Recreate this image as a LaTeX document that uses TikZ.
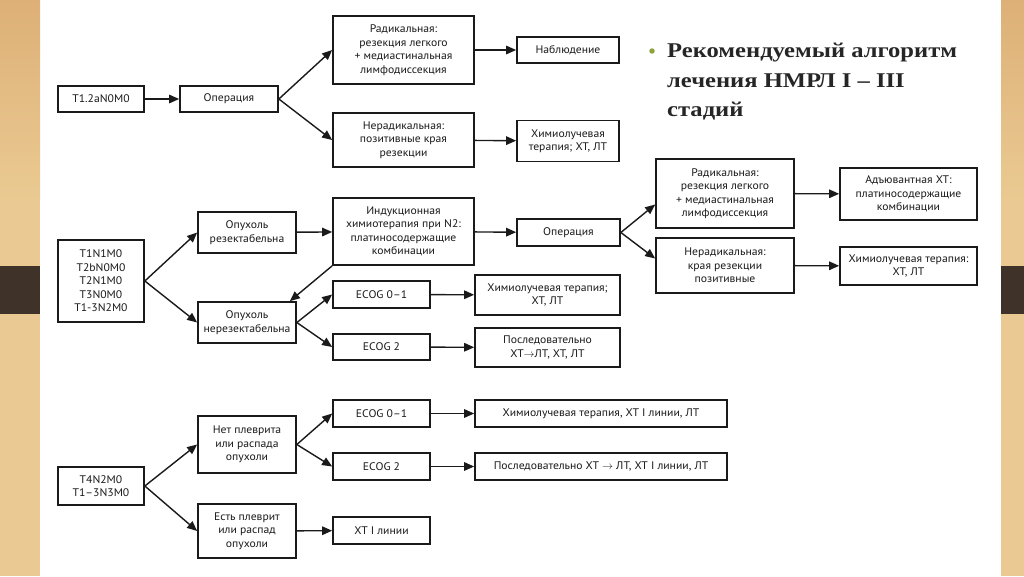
\documentclass[tikz,border=0pt]{standalone}
\usepackage{fontspec}
\setmainfont{PT Sans}[FakeStretch=1.06]
\newfontfamily\headfont{Liberation Serif}[FakeStretch=1.17]
\usetikzlibrary{arrows.meta}
\definecolor{ink}{HTML}{1A1A1A}
\definecolor{wood}{HTML}{EACA92}
\definecolor{woodtop}{HTML}{DDB077}
\definecolor{woodband}{HTML}{3E3229}
\definecolor{olive}{HTML}{8FA33C}
\definecolor{headtext}{HTML}{262626}
\tikzset{
  box/.style 2 args={draw=ink, line width=1.7pt, inner sep=0pt, align=center, text=ink,
    minimum width=#1, minimum height=#2, font=\fontsize{11}{13.5}\selectfont},
  arr/.style={draw=ink, line width=1.4pt, -{Triangle[length=10pt,width=8.5pt]}},
  head/.style={anchor=base west, inner sep=0pt, text=headtext, font=\headfont\bfseries\fontsize{21}{29}\selectfont},
}
\begin{document}
\begin{tikzpicture}[x=1pt, y=-1pt]
  % slide and wooden frame
  \fill[white] (0,0) rectangle (1024,576);
  \fill[wood] (0,0) rectangle (40,576);
  \shade[top color=woodtop, bottom color=wood] (0,0) rectangle (40,200);
  \fill[woodband] (0,266) rectangle (40,314);
  \fill[wood] (1001,0) rectangle (1024,576);
  \shade[top color=woodtop, bottom color=wood] (1001,0) rectangle (1024,200);
  \fill[woodband] (1001,266) rectangle (1024,314);

  % heading
  \node[circle, fill=olive, inner sep=0pt, minimum size=5.5pt] (bullet) at (652,51) {};
  \node[head] (title1) at (667,57.7) {Рекомендуемый алгоритм};
  \node[head] (title2) at (667,87) {лечения НМРЛ I – III};
  \node[head] (title3) at (667,116.5) {стадий};

  % T1-2a
  \node[box={86}{26}] (t12) at (101,99) {T1.2aN0M0};
  \node[box={98}{26}] (op1) at (229,99) {Операция};
  \node[box={141}{68}] (rad1) at (403.5,50) {Радикальная:\\резекция легкого\\+ медиастинальная\\лимфодиссекция};
  \node[box={102}{26}] (obs) at (568,50) {Наблюдение};
  \node[box={141}{54}] (nonrad1) at (403.5,140) {Нерадикальная:\\позитивные края\\резекции};
  \node[box={102}{41}] (chemo1) at (568,141) {Химиолучевая\\терапия; ХТ, ЛТ};

  \draw[arr] (t12) -- (op1);
  \draw[arr] (op1.east) -- (rad1.west);
  \draw[arr] (op1.east) -- (nonrad1.west);
  \draw[arr] (rad1) -- (obs);
  \draw[arr] (nonrad1) -- (chemo1);

  % T1N1 ... T1-3N2
  \node[box={86}{82}] (t1n1) at (101,281) {T1N1M0\\T2bN0M0\\T2N1M0\\T3N0M0\\T1-3N2M0};
  \node[box={98}{41}] (res) at (247,232.5) {Опухоль\\резектабельна};
  \node[box={98}{41}] (nonres) at (247,322.5) {Опухоль\\нерезектабельна};
  \node[box={141}{67}] (induct) at (403.5,231.5) {Индукционная\\химиотерапия при N2:\\платиносодержащие\\комбинации};
  \node[box={103}{27}] (op2) at (568.5,232.5) {Операция};
  \node[box={138}{69}] (rad2) at (725,193.5) {Радикальная:\\резекция легкого\\+ медиастинальная\\лимфодиссекция};
  \node[box={137}{52}] (adj) at (908.5,194) {Адъювантная ХТ:\\платиносодержащие\\комбинации};
  \node[box={138}{55}] (nonrad2) at (725,265.5) {Нерадикальная:\\края резекции\\позитивные};
  \node[box={137}{38}] (chemo3) at (908.5,266) {Химиолучевая терапия:\\ХТ, ЛТ};
  \node[box={97}{27}] (ecogA) at (381.5,294.5) {ECOG 0–1};
  \node[box={97}{26}] (ecogB) at (381.5,347) {ECOG 2};
  \node[box={145}{40}] (chemo2) at (547.5,295) {Химиолучевая терапия;\\ХТ, ЛТ};
  \node[box={145}{39}] (seq1) at (547.5,347.5) {Последовательно\\ХТ$\rightarrow$ЛТ, ХТ, ЛТ};

  \draw[arr] (t1n1.east) -- (res.west);
  \draw[arr] (t1n1.east) -- (nonres.west);
  \draw[arr] (res) -- (induct);
  \draw[arr] (induct.south west) -- ([xshift=-7pt]nonres.north east);
  \draw[arr] (induct) -- (op2);
  \draw[arr] (op2.east) -- ([yshift=-11pt]rad2.west);
  \draw[arr] (op2.east) -- ([yshift=7pt]nonrad2.west);
  \draw[arr] (rad2) -- (adj);
  \draw[arr] (nonrad2) -- (chemo3);
  \draw[arr] (nonres.east) -- (ecogA.west);
  \draw[arr] (nonres.east) -- (ecogB.west);
  \draw[arr] (ecogA) -- (chemo2);
  \draw[arr] (ecogB) -- (seq1);

  % T4N2 / T1-3N3
  \node[box={86}{38}] (t4) at (101,486) {T4N2M0\\T1–3N3M0};
  \node[box={98}{57}] (nopl) at (247,444.5) {Нет плеврита\\или распада\\опухоли};
  \node[box={98}{54}] (pl) at (247,531) {Есть плеврит\\или распад\\опухоли};
  \node[box={97}{27}] (ecogC) at (381.5,413.5) {ECOG 0–1};
  \node[box={97}{27}] (ecogD) at (381.5,466.5) {ECOG 2};
  \node[box={97}{27}] (xt1) at (381.5,530.5) {ХТ I линии};
  \node[box={252}{27}] (chemo4) at (601,413.5) {Химиолучевая терапия, ХТ I линии, ЛТ};
  \node[box={252}{27}] (seq2) at (601,466.5) {Последовательно ХТ $\rightarrow$ ЛТ, ХТ I линии, ЛТ};

  \draw[arr] (t4.east) -- (nopl.west);
  \draw[arr] (t4.east) -- (pl.west);
  \draw[arr] (nopl.east) -- (ecogC.west);
  \draw[arr] (nopl.east) -- (ecogD.west);
  \draw[arr] (pl) -- (xt1);
  \draw[arr] (ecogC) -- (chemo4);
  \draw[arr] (ecogD) -- (seq2);
\end{tikzpicture}
\end{document}
